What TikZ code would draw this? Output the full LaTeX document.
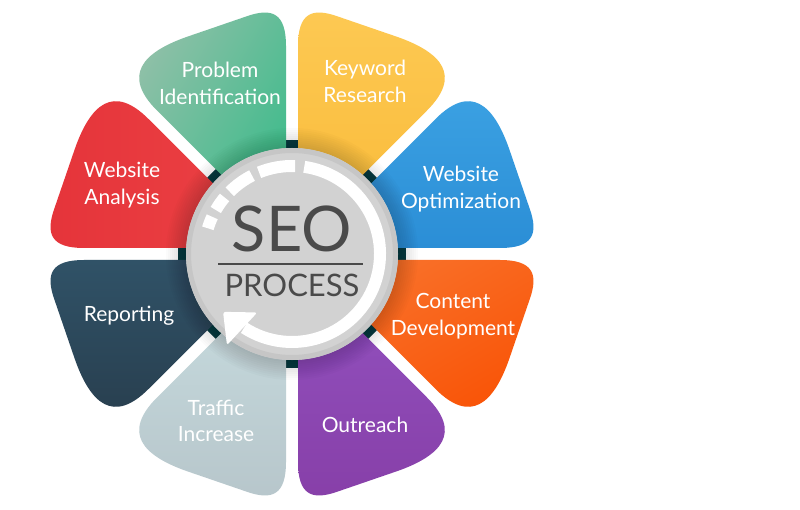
\documentclass[tikz,border=0pt]{standalone}
\usepackage{fontspec}
\setmainfont{Lato}
\usetikzlibrary{calc}
\definecolor{darkring}{HTML}{0C3A40}
\definecolor{gA}{HTML}{93C0A9}\definecolor{gB}{HTML}{3DBB8B}
\definecolor{yA}{HTML}{FDC953}\definecolor{yB}{HTML}{F9BA38}
\definecolor{bA}{HTML}{3CA2E3}\definecolor{bB}{HTML}{2B8ED6}
\definecolor{oA}{HTML}{F9722B}\definecolor{oB}{HTML}{F95306}
\definecolor{pA}{HTML}{9353C1}\definecolor{pB}{HTML}{873FA8}
\definecolor{tA}{HTML}{C8DDE0}\definecolor{tB}{HTML}{B7C6CB}
\definecolor{rA}{HTML}{305267}\definecolor{rB}{HTML}{283E4E}
\definecolor{wA}{HTML}{E5343A}\definecolor{wB}{HTML}{EC4245}
\definecolor{circgray}{HTML}{D2D2D2}
\definecolor{circrim}{HTML}{C6C6C6}
\definecolor{seogray}{HTML}{4A4A4A}
% point (x,y) of the base petal, mapped by the matrix (\pa \pb; \pc \pd)
\newcommand\pq[3]{\coordinate (#1) at ($(C)+({\pa*(#2)+\pb*(#3)},{\pc*(#2)+\pd*(#3)})$);}
\newcommand\petalpath[5]{%
  \def\pa{#2}\def\pb{#3}\def\pc{#4}\def\pd{#5}%
  \pq{q0}{6}{14.5}\pq{q1}{6}{208}\pq{q2}{6}{241}\pq{q3}{20}{246.5}\pq{q4}{45}{237.8}%
  \pq{q5}{105}{217.2}\pq{q6}{150}{201.4}\pq{q7}{170}{178.5}\pq{q8}{135}{143.5}%
  \path[#1] (q0) -- (q1) .. controls (q2) and (q3) .. (q4) -- (q5)
    .. controls (q6) and (q7) .. (q8) -- cycle;}
\begin{document}
\begin{tikzpicture}[x=1pt,y=1pt,
  lbl/.style={anchor=base, text=white, inner sep=0pt,
    font=\fontsize{21}{26.5}\selectfont},
  whitearc/.style={draw=white, line width=12},
  shadowring/.style={fill=black, opacity=0.014}]
\useasboundingbox (0,0) rectangle (800,-510);
\fill[white] (0,0) rectangle (800,-510);
\coordinate (C) at (292,-254);
\fill[darkring] (C) circle (114);
% petals
\petalpath{left color=gA, right color=gB, shading angle=60}{-1}{0}{0}{1}
\petalpath{top color=yA, bottom color=yB}{1}{0}{0}{1}
\petalpath{top color=bA, bottom color=bB}{0}{1}{1}{0}
\petalpath{left color=oA, right color=oB, shading angle=30}{0}{1}{-1}{0}
\petalpath{top color=pA, bottom color=pB}{1}{0}{0}{-1}
\petalpath{top color=tA, bottom color=tB}{-1}{0}{0}{-1}
\petalpath{top color=rA, bottom color=rB}{0}{-1}{-1}{0}
\petalpath{left color=wA, right color=wB}{0}{-1}{1}{0}
% soft shadow around the centre disc
\foreach \r in {126,124,...,106} {\fill[shadowring] (C) circle (\r);}
% centre disc
\fill[circgray] (C) circle (106);
\draw[circrim, line width=5] (C) circle (103.5);
% circular arrow
\draw[whitearc] ($(C)+(82:88)$) arc[start angle=82, end angle=-123, radius=88];
\fill[white, rounded corners=2.5] ($(C)+(220:90)$) -- ($(C)+(239.3:68)$) -- ($(C)+(234.5:112)$) -- cycle;
\draw[whitearc] ($(C)+(88:88)$) arc[start angle=88, end angle=112, radius=88];
\draw[whitearc] ($(C)+(117:88)$) arc[start angle=117, end angle=135, radius=88];
\draw[whitearc] ($(C)+(140:88)$) arc[start angle=140, end angle=150, radius=88];
\draw[whitearc] ($(C)+(155:88)$) arc[start angle=155, end angle=163, radius=88];
% centre text
\node[anchor=base, inner sep=0pt, text=seogray, font=\fontsize{63}{63}\selectfont] (seo) at (292,-252) {SEO};
\coordinate (rl) at (218,-264);
\coordinate (rr) at (363,-264);
\draw[seogray, line width=1.8] (rl) -- (rr);
\node[anchor=base, inner sep=0pt, text=seogray, font=\fontsize{31}{31}\selectfont] (proc) at (292,-297) {PROCESS};
% labels
\node[lbl] (l1) at (220,-78) {\begin{tabular}[t]{@{}c@{}}Problem\\Identification\end{tabular}};
\node[lbl] (l2) at (365,-76) {\begin{tabular}[t]{@{}c@{}}Keyword\\Research\end{tabular}};
\node[lbl] (l3) at (461,-182) {\begin{tabular}[t]{@{}c@{}}Website\\Optimization\end{tabular}};
\node[lbl] (l4) at (453,-309) {\begin{tabular}[t]{@{}c@{}}Content\\Development\end{tabular}};
\node[lbl] (l5) at (365,-432) {Outreach};
\node[lbl] (l6) at (216,-415) {\begin{tabular}[t]{@{}c@{}}Traffic\\Increase\end{tabular}};
\node[lbl] (l7) at (129,-322) {Reporting};
\node[lbl] (l8) at (122,-178) {\begin{tabular}[t]{@{}c@{}}Website\\Analysis\end{tabular}};
\end{tikzpicture}
\end{document}
